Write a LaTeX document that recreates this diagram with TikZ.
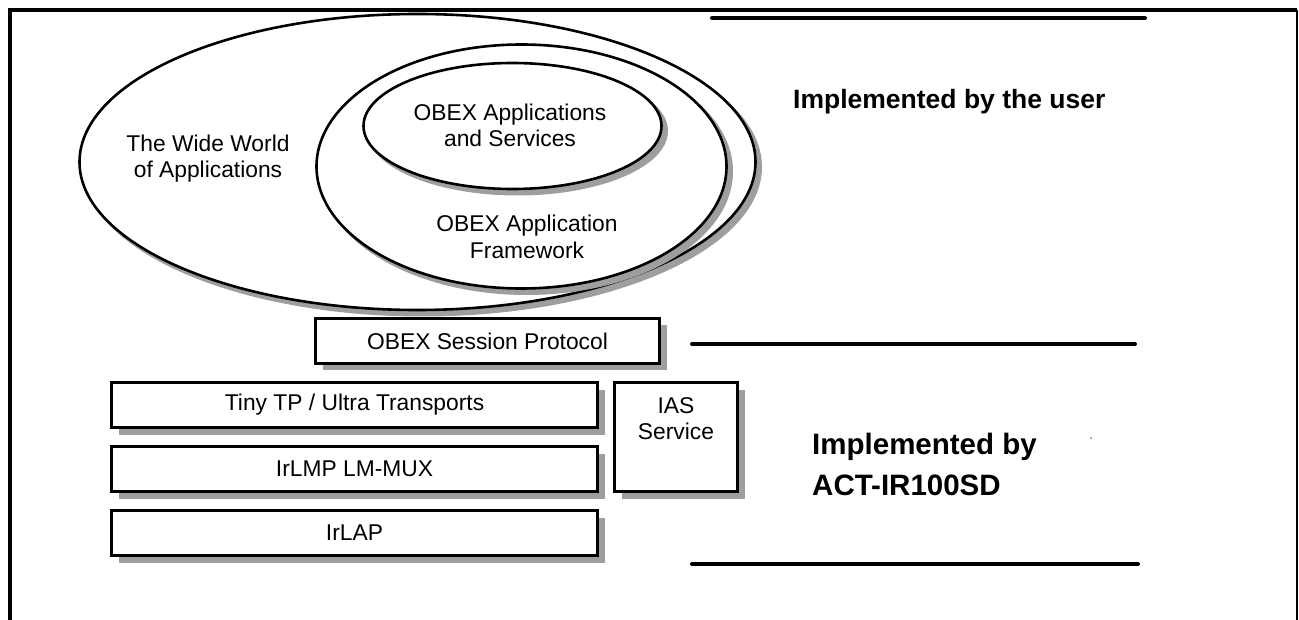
\documentclass[tikz,border=0pt]{standalone}
\usepackage{fontspec}
\setmainfont{Liberation Sans}
\usetikzlibrary{positioning,shadows}

\definecolor{shadowgray}{gray}{0.62}

\tikzset{
    txt/.style={font=\fontsize{22.8}{26.5}\selectfont, align=center, inner sep=0pt},
    layer/.style={draw, line width=3pt, fill=white, inner sep=0pt, txt,
        drop shadow={shadow xshift=7pt, shadow yshift=-7pt, fill=shadowgray, opacity=1}},
    ring/.style={draw, fill=white, line width=2.6pt},
    ringshadow/.style={fill=shadowgray, transform canvas={shift={(5pt,-5pt)}}},
    rule/.style={line width=4pt, line cap=round},
    note/.style={font=\bfseries\fontsize{#1}{#1}\selectfont, inner sep=0pt, anchor=base west},
}

\begin{document}
\begin{tikzpicture}[x=1pt, y=-1pt]
    \useasboundingbox (0,0) rectangle (1299,620);

    % frame
    \draw[line width=4pt] (10,620) -- (10,10) -- (1297,10);
    \draw[line width=1.5pt] (1297,10) -- (1297,620);

    % application rings
    \coordinate (world) at (417.5,162);
    \coordinate (frame) at (521.5,166.5);
    \coordinate (apps) at (512.5,126);
    \path[ringshadow] (world) ellipse [x radius=339.5, y radius=149.5];
    \path[ring] (world) ellipse [x radius=338, y radius=148];
    \path[ringshadow] (frame) ellipse [x radius=206.5, y radius=123.5];
    \path[ring] (frame) ellipse [x radius=205, y radius=122];
    \path[ringshadow] (apps) ellipse [x radius=150.5, y radius=64.5];
    \path[ring] (apps) ellipse [x radius=149, y radius=63];

    \node[txt] (worldtxt) at (208,158.5) {The Wide World\\of Applications};
    \node[txt] (appstxt) at (510,125.5) {OBEX Applications\\and Services};
    \node[txt] (frametxt) at (527,237) {OBEX Application\\Framework};

    % protocol stack
    \node[layer, minimum width=344, minimum height=45] (session) at (487.5,341) {OBEX Session Protocol};
    \node[layer, minimum width=486, minimum height=45] (tinytp) at (354.5,405) {Tiny TP / Ultra Transports};
    \node[layer, minimum width=486, minimum height=45] (irlmp) at (354.5,469) {IrLMP LM-MUX};
    \node[layer, minimum width=486, minimum height=45] (irlap) at (354.5,533) {IrLAP};
    \node[layer, minimum width=123, minimum height=109] (ias) at (676,437) {};
    \node[txt, anchor=north] (iastxt) at (676,397) {IAS\\Service};

    % split lines
    \coordinate (top1) at (712,18);
    \coordinate (top2) at (1145,18);
    \coordinate (mid1) at (692,344);
    \coordinate (mid2) at (1135,344);
    \coordinate (bot1) at (692,564);
    \coordinate (bot2) at (1138,564);
    \draw[rule] (top1) -- (top2);
    \draw[rule] (mid1) -- (mid2);
    \draw[rule] (bot1) -- (bot2);

    \node[note=26.5] (user) at (793,109) {Implemented by the user};
    \node[note=29.5] (impl) at (812,454) {Implemented by};
    \node[note=29.5] (act) at (812,495) {ACT-IR100SD};
    \fill[gray] (1091,438) circle [radius=1];
\end{tikzpicture}
\end{document}
